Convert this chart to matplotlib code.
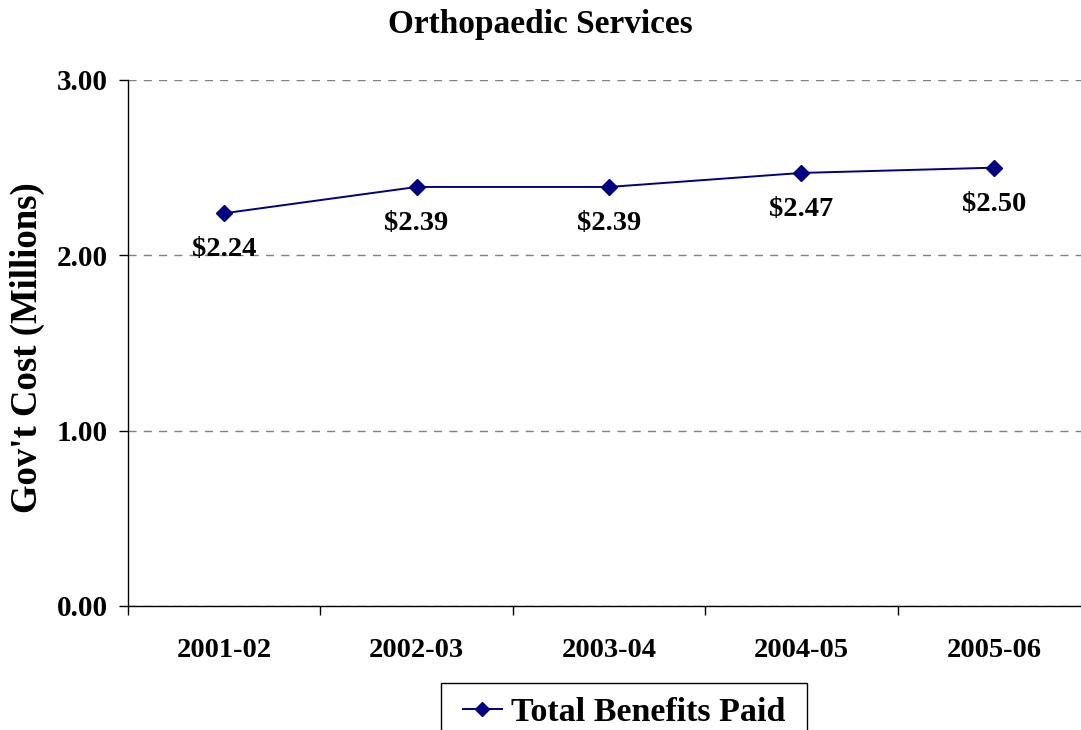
import matplotlib
matplotlib.use("Agg")
import matplotlib.pyplot as plt
from matplotlib.patches import Rectangle
from matplotlib.ticker import FixedLocator, NullFormatter, FixedFormatter

categories = ["2001-02", "2002-03", "2003-04", "2004-05", "2005-06"]
values = [2.24, 2.39, 2.39, 2.47, 2.50]
labels = ["$2.24", "$2.39", "$2.39", "$2.47", "$2.50"]
yticks = [0.0, 1.0, 2.0, 3.0]
series_name = "Total Benefits Paid"

plt.rcParams['font.family'] = ['Liberation Serif', 'DejaVu Serif']
plt.rcParams['font.weight'] = 'bold'

W, H = 1081, 730
fig = plt.figure(figsize=(W / 100, H / 100), dpi=100)
ax = fig.add_axes([128 / W, 124 / H, 962 / W, 526 / H])

x = list(range(len(categories)))
line, = ax.plot(x, values, color='#000080', linewidth=1.4, marker='D',
                markersize=8, markerfacecolor='#000080', markeredgecolor='#000080',
                label=series_name, zorder=3)

for xi, v, lab in zip(x, values, labels):
    ax.annotate(lab, (xi, v), xytext=(0, -31), textcoords='offset points',
                ha='center', va='baseline', fontsize=20.5, fontweight='bold',
                parse_math=False)

ax.set_xlim(-0.5, len(categories) - 0.5)
ax.set_ylim(0, 3)

# x ticks: boundaries as major ticks, labels at centers
ax.xaxis.set_major_locator(FixedLocator([i - 0.5 for i in range(len(categories) + 1)]))
ax.xaxis.set_major_formatter(NullFormatter())
ax.xaxis.set_minor_locator(FixedLocator(x))
ax.xaxis.set_minor_formatter(FixedFormatter(categories))
ax.tick_params(axis='x', which='major', direction='out', length=6.5, width=1, color='black')
ax.tick_params(axis='x', which='minor', length=0, pad=23, labelsize=20.5)

ax.set_yticks(yticks)
ax.set_yticklabels([f"{t:.2f}" for t in yticks])
ax.tick_params(axis='y', direction='out', length=6.5, width=1, color='black', pad=8, labelsize=21)

for lab in ax.get_xticklabels(minor=True) + ax.get_yticklabels():
    lab.set_fontweight('bold')

ax.grid(axis='y', color='#808080', linestyle=(0, (5.8, 5.2)), linewidth=1.0)
ax.set_axisbelow(True)
ax.spines['top'].set_visible(False)
ax.spines['right'].set_visible(False)
ax.spines['left'].set_color('black')
ax.spines['bottom'].set_color('black')
ax.spines['left'].set_linewidth(1.0)
ax.spines['bottom'].set_linewidth(1.0)

fig.text(0.5, 1 - 33 / H, "Orthopaedic Services", ha='center', va='baseline',
         fontsize=24, fontweight='bold')
fig.text(27 / W, 1 - 348 / H, "Gov't Cost (Millions)", ha='center', va='center',
         rotation=90, fontsize=26.5, fontweight='bold')

leg = fig.legend(handles=[line], loc='upper center',
                 bbox_to_anchor=(624 / W, 1 - 683 / H),
                 fontsize=24.5, frameon=False, handlelength=1.15, handletextpad=0.27,
                 borderpad=0.4, borderaxespad=0, markerscale=0.85)
for t in leg.get_texts():
    t.set_fontweight('bold')

# legend frame: widen the legend's own extent horizontally (frame runs past the bottom edge)
fig.canvas.draw()
bb = leg.get_window_extent()
padx = 8
frame = Rectangle((bb.x0 - padx, bb.y0 - 20), bb.width + 2 * padx, bb.height + 20,
                  transform=None, facecolor='white', edgecolor='black',
                  linewidth=1.0, zorder=leg.get_zorder() - 0.1)
fig.add_artist(frame)

fig.savefig("out.png", dpi=100)
